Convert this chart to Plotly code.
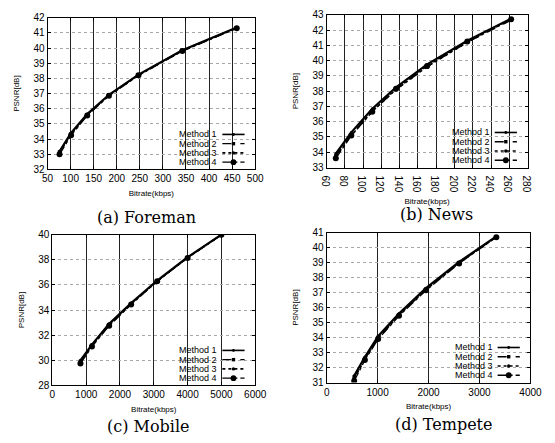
import plotly.graph_objects as go

# ---------------- data ----------------
methods = ["Method 1", "Method 2", "Method 3", "Method 4"]

foreman_rate = [76, 101, 136, 183, 247, 342, 460]
foreman_m1 = [33.20, 34.40, 35.65, 36.92, 38.25, 39.85, 41.35]
foreman_m2 = [33.15, 34.35, 35.60, 36.90, 38.22, 39.83, 41.33]
foreman_m3 = [33.10, 34.30, 35.60, 36.88, 38.20, 39.82, 41.32]
foreman_m4 = [33.00, 34.25, 35.55, 36.85, 38.20, 39.80, 41.30]

news_rate = [70, 87, 110, 136, 170, 214, 262]
news_m1 = [33.90, 35.30, 36.85, 38.25, 39.75, 41.30, 42.75]
news_m2 = [33.75, 35.15, 36.70, 38.10, 39.60, 41.20, 42.65]
news_m3 = [33.70, 35.10, 36.70, 38.10, 39.60, 41.20, 42.70]
news_m4 = [33.60, 35.10, 36.65, 38.15, 39.65, 41.25, 42.70]

mobile_rate = [830, 1170, 1680, 2330, 3100, 4000, 5000]
mobile_m1 = [30.00, 31.25, 32.90, 34.55, 36.35, 38.20, 40.00]
mobile_m2 = [29.90, 31.20, 32.85, 34.50, 36.30, 38.18, 39.98]
mobile_m3 = [29.85, 31.15, 32.80, 34.48, 36.30, 38.17, 39.98]
mobile_m4 = [29.75, 31.10, 32.75, 34.45, 36.30, 38.15, 40.00]

tempete_rate = [540, 750, 1010, 1420, 1950, 2600, 3330]
tempete_m1 = [31.45, 32.70, 34.10, 35.60, 37.30, 39.05, 40.75]
tempete_m2 = [31.35, 32.60, 34.00, 35.52, 37.22, 39.00, 40.72]
tempete_m3 = [31.25, 32.55, 33.95, 35.50, 37.20, 38.98, 40.72]
tempete_m4 = [31.10, 32.50, 33.90, 35.45, 37.15, 38.95, 40.70]

foreman_xticks = [50, 100, 150, 200, 250, 300, 350, 400, 450, 500]
news_xticks = [60, 80, 100, 120, 140, 160, 180, 200, 220, 240, 260, 280]
mobile_xticks = [0, 1000, 2000, 3000, 4000, 5000, 6000]
tempete_xticks = [0, 1000, 2000, 3000, 4000]
foreman_yticks = list(range(32, 43))
news_yticks = list(range(33, 44))
mobile_yticks = [28, 30, 32, 34, 36, 38, 40]
tempete_yticks = list(range(31, 42))

panel_titles = ["(a) Foreman", "(b) News", "(c) Mobile", "(d) Tempete"]

# ---------------- layout helpers ----------------
W, H = 555, 443


def px_x(p):
    return p / W


def px_y(p):
    return 1 - p / H


# pixel boxes of each plot area: left, right, top, bottom
boxes = [(42, 257, 12, 168), (331, 539, 9, 166), (47, 257, 235, 390), (331, 542, 233, 387)]
caption_pos = [(144, 217), (445, 214), (147, 432), (453, 430)]  # centre of caption text (pixels)
panels = [
    (foreman_rate, [foreman_m1, foreman_m2, foreman_m3, foreman_m4], foreman_xticks, foreman_yticks),
    (news_rate, [news_m1, news_m2, news_m3, news_m4], news_xticks, news_yticks),
    (mobile_rate, [mobile_m1, mobile_m2, mobile_m3, mobile_m4], mobile_xticks, mobile_yticks),
    (tempete_rate, [tempete_m1, tempete_m2, tempete_m3, tempete_m4], tempete_xticks, tempete_yticks),
]

styles = [
    dict(dash="solid", width=2.2, symbol="circle", size=3),
    dict(dash="dash", width=1.4, symbol="square", size=3.5),
    dict(dash="dot", width=1.6, symbol="circle", size=3.5),
    dict(dash="dashdot", width=1.4, symbol="circle", size=6),
]

fig = go.Figure()
tick_font = dict(family="Liberation Sans, Arial, sans-serif", size=10, color="black")
lab_font = dict(family="Liberation Sans, Arial, sans-serif", size=8, color="black")
shapes = []
annotations = []

for i, (rate, series, xt, yt) in enumerate(panels):
    n = "" if i == 0 else str(i + 1)
    xa, ya = "x" + n, "y" + n
    for m, (ys, st) in enumerate(zip(series, styles)):
        fig.add_trace(go.Scatter(
            x=rate, y=ys, xaxis=xa, yaxis=ya, name=methods[m], showlegend=False,
            mode="lines+markers",
            line=dict(color="black", dash=st["dash"], width=st["width"]),
            marker=dict(color="black", symbol=st["symbol"], size=st["size"]),
        ))
    l, r, t, b = boxes[i]
    fig.update_layout(**{
        "xaxis" + n: dict(
            domain=[px_x(l), px_x(r)], anchor=ya, range=[xt[0], xt[-1]],
            tickvals=xt, ticks="inside", ticklen=3, tickcolor="black",
            showline=True, linecolor="black", linewidth=1, mirror="ticks",
            showgrid=True, gridcolor="#222", gridwidth=1,
            tickfont=tick_font, zeroline=False,
            title=dict(text="Bitrate(kbps)", font=lab_font, standoff=6),
        ),
        "yaxis" + n: dict(
            domain=[px_y(b), px_y(t)], anchor=xa, range=[yt[0], yt[-1]],
            tickvals=yt, ticks="inside", ticklen=3, tickcolor="black",
            showline=True, linecolor="black", linewidth=1, mirror="ticks",
            showgrid=True, gridcolor="#a8a8a8", gridwidth=1, griddash="dot",
            tickfont=tick_font, zeroline=False,
            title=dict(text="PSNR[dB]", font=lab_font, standoff=12),
        ),
    })
    # panel caption
    cx, cy = caption_pos[i]
    annotations.append(dict(
        text=panel_titles[i], xref="paper", yref="paper", x=px_x(cx), y=px_y(cy),
        xanchor="center", yanchor="middle", showarrow=False,
        font=dict(family="DejaVu Serif, serif", size=16, color="black"),
    ))
    # legend (text left, sample right, like the original)
    sx0 = r - 34
    sx1 = r - 11
    row0 = b - 36
    shapes.append(dict(type="rect", xref="paper", yref="paper",
                       x0=px_x(sx0 - 48), x1=px_x(r - 6), y0=px_y(row0 - 5), y1=px_y(row0 + 3 * 9.5 + 5),
                       fillcolor="white", line=dict(width=0), layer="between"))
    for m, st in enumerate(styles):
        yy = row0 + m * 9.5
        annotations.append(dict(
            text=methods[m], xref="paper", yref="paper", x=px_x(sx0 - 3), y=px_y(yy),
            xanchor="right", yanchor="middle", showarrow=False, font=dict(
                family="Liberation Sans, Arial, sans-serif", size=9, color="black"),
        ))
        shapes.append(dict(type="line", xref="paper", yref="paper",
                           x0=px_x(sx0), x1=px_x(sx1), y0=px_y(yy), y1=px_y(yy),
                           line=dict(color="black", width=min(st["width"], 1.6), dash=st["dash"])))
        rad = st["size"] / 2
        mx = (sx0 + sx1) / 2
        shapes.append(dict(type="circle" if st["symbol"] == "circle" else "rect",
                           xref="paper", yref="paper",
                           x0=px_x(mx - rad), x1=px_x(mx + rad), y0=px_y(yy + rad), y1=px_y(yy - rad),
                           fillcolor="black", line=dict(width=0)))

fig.update_layout(
    width=W, height=H, margin=dict(l=0, r=0, t=0, b=0),
    paper_bgcolor="white", plot_bgcolor="white",
    shapes=shapes, annotations=annotations, showlegend=False,
)

fig.write_html(
    "out.html",
    config={"displayModeBar": False},
    post_script="document.body.style.margin='0';document.body.style.overflow='hidden';",
)
